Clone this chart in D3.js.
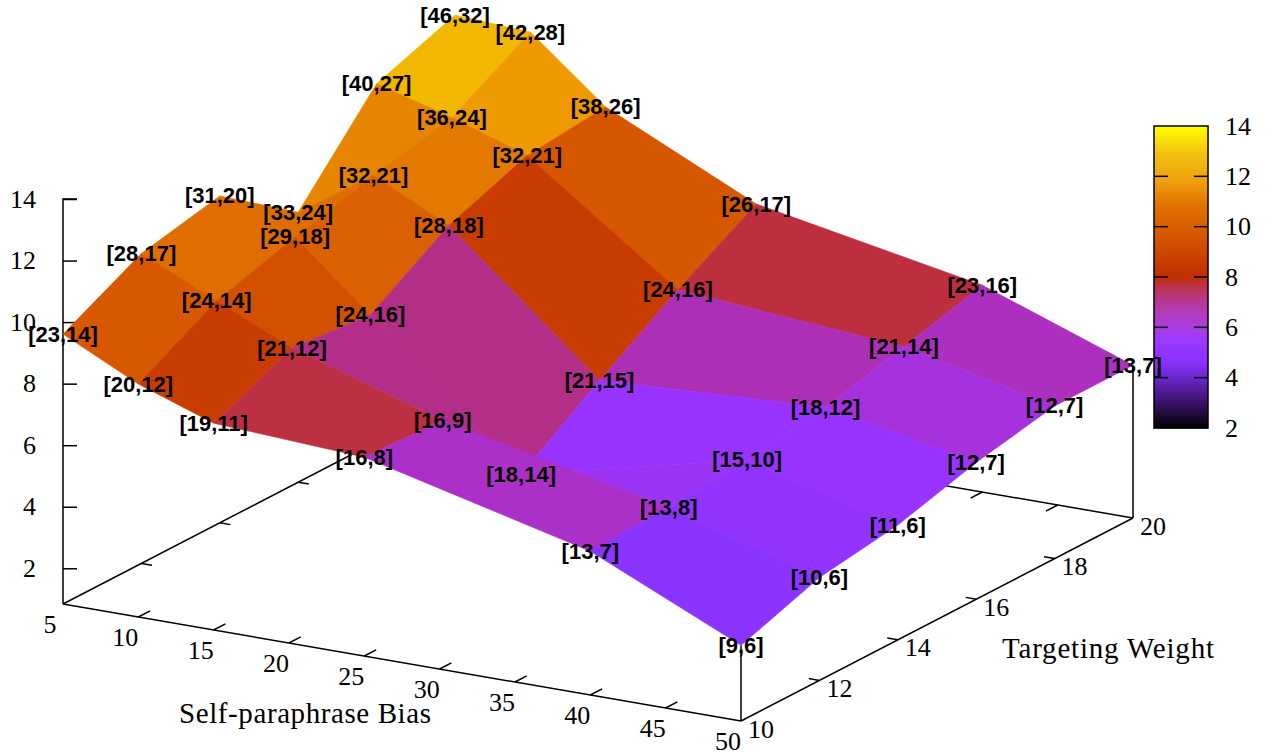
<!DOCTYPE html>
<html><head><meta charset="utf-8">
<script src="https://cdn.jsdelivr.net/npm/d3@7"></script>
<style>html,body{margin:0;padding:0;background:#fff;overflow:hidden}
.tick-text{font-family:"Liberation Serif",serif;font-size:26px;fill:#000}
.title-text{font-family:"Liberation Serif",serif;font-size:29px;fill:#000}
.pt{font-family:"Liberation Sans",Arial,sans-serif;font-weight:700;font-size:22px;fill:#000}
</style></head><body><svg id="c" width="1268" height="754"></svg>
<script>
// ---- data ----
const selfBias = [5, 10, 15, 25, 40, 50];
const targetWeight = [10, 12, 14, 16, 18, 20];
const zRow10 = [9.61, 8.41, 7.56, 7.30, 5.51, 3.30];
const zRow12 = [10.91, 9.80, 8.68, 7.17, 5.61, 4.18];
const zRow14 = [11.46, 10.55, 8.44, 4.11, 5.84, 4.57];
const zRow16 = [9.61, 11.24, 10.03, 5.84, 6.23, 5.28];
const zRow18 = [12.47, 11.79, 10.98, 7.46, 6.88, 5.80];
const zRow20 = [13.38, 13.25, 11.24, 8.93, 7.56, 5.80];
const labelRow10 = ["[23,14]","[20,12]","[19,11]","[16,8]","[13,7]","[9,6]"];
const labelRow12 = ["[28,17]","[24,14]","[21,12]","[16,9]","[13,8]","[10,6]"];
const labelRow14 = ["[31,20]","[29,18]","[24,16]","[18,14]","[15,10]","[11,6]"];
const labelRow16 = ["[33,24]","[32,21]","[28,18]","[21,15]","[18,12]","[12,7]"];
const labelRow18 = ["[40,27]","[36,24]","[32,21]","[24,16]","[21,14]","[12,7]"];
const labelRow20 = ["[46,32]","[42,28]","[38,26]","[26,17]","[23,16]","[13,7]"];
const xTicks = [5,10,15,20,25,30,35,40,45,50];
const yTicks = [10,12,14,16,18,20];
const zTicks = [2,4,6,8,10,12,14];
const cbTicks = [2,4,6,8,10,12,14];
const xTitle = "Self-paraphrase Bias";
const yTitle = "Targeting Weight";
const paletteStops = [2,3,4,4.65,5.5,6,6.5,7.1,7.7,8,8.6,9.7,10.8,11.8,12.9,14];
const paletteColors = ["#000000","#3a1268","#6a28c8","#8b33ff","#9933ff","#a532e0","#ac2fc0","#b32e88","#bd2f40","#c03000","#c83c00","#d85800","#e07000","#ee9a00","#f3bd00","#ffff00"];

const zGrid = [zRow10,zRow12,zRow14,zRow16,zRow18,zRow20];
const labelGrid = [labelRow10,labelRow12,labelRow14,labelRow16,labelRow18,labelRow20];

// ---- projection built from scales ----
const xH = d3.scaleLinear([5,50],[0,678]);
const xV = d3.scaleLinear([5,50],[0,117]);
const yH = d3.scaleLinear([10,20],[0,392]);
const yV = d3.scaleLinear([10,20],[0,-203]);
const zS = d3.scaleLinear([2,14],[568.3,199]);
const zBase = zS.invert(604);
const ox = 63;
const P = (x,y,z) => [ox + xH(x) + yH(y), zS(z) + xV(x) + yV(y)];
const cbS = d3.scaleLinear([2,14],[428,126]);
const palette = d3.scaleLinear().domain(paletteStops).range(paletteColors).clamp(true);

const svg = d3.select("#c");
const line = d3.line();
const seg = (a,b,w=1.5) => svg.append("path").attr("d",line([a,b])).attr("stroke","#000").attr("stroke-width",w).attr("fill","none");

// base frame
seg(P(5,10,zBase),P(50,10,zBase));
seg(P(50,10,zBase),P(50,20,zBase));
seg(P(5,10,zBase),P(5,20,zBase));
seg(P(5,20,zBase),P(50,20,zBase));
seg(P(50,10,zBase),P(50,10,zGrid[0][5]));
seg(P(50,20,zBase),P(50,20,zGrid[5][5]));
// ticks
xTicks.slice(1,-1).forEach(t=>{
  seg(P(t,10,zBase),P(t,10.3,zBase));
  seg(P(t,20,zBase),P(t,19.7,zBase));
});
yTicks.slice(1,-1).forEach(t=>{
  seg(P(50,t,zBase),P(49.3,t,zBase));
  seg(P(5,t,zBase),P(5.7,t,zBase));
});
// tick labels
const tl = (x,y,s,a="middle") => svg.append("text").attr("class","tick-text").attr("x",x).attr("y",y).attr("text-anchor",a).attr("dominant-baseline","central").text(s);
xTicks.forEach(t=>{const p=P(t,10,zBase); tl(p[0]-13,p[1]+20,t);});
yTicks.forEach(t=>{const p=P(50,t,zBase); tl(p[0]+20,p[1]+8,t);});

// z axis
const zAxis = d3.axisRight(zS).tickValues(zTicks).tickSize(14).tickFormat("");
const zg = svg.append("g").attr("transform",`translate(${ox},0)`).call(zAxis);
zg.select(".domain").attr("d",line([[0,P(5,10,zBase)[1]],[0,zS(14)],[14,zS(14)]])).attr("stroke-width",1.5).attr("fill","none");
zg.selectAll(".tick line").attr("stroke-width",1.5);
zTicks.forEach(t=>tl(36,zS(t),t,"end"));

// surface, back to front
const quads = [];
for (let j=targetWeight.length-2;j>=0;j--) for (let i=0;i<selfBias.length-1;i++) {
  const c=[[i,j],[i+1,j],[i+1,j+1],[i,j+1]];
  quads.push({pts:c.map(([a,b])=>P(selfBias[a],targetWeight[b],zGrid[b][a])), z:d3.mean(c,([a,b])=>zGrid[b][a])});
}
svg.append("g").selectAll("path").data(quads).join("path")
  .attr("d",d=>line(d.pts)+"Z").attr("fill",d=>palette(d.z)).attr("stroke",d=>palette(d.z)).attr("stroke-width",0.6).attr("stroke-linejoin","round");

// titles
const title = (x,y,s,len) => svg.append("text").attr("class","title-text").attr("x",x).attr("y",y).attr("text-anchor","middle").attr("dominant-baseline","central").attr("textLength",len).attr("lengthAdjust","spacing").text(s);
title(305,713,xTitle,252);
title(1108,648,yTitle,212);

// colour box
const cbX = 1154, cbW = 54;
const cbSteps = d3.range(2,14,0.04);
svg.append("g").selectAll("rect").data(cbSteps).join("rect")
  .attr("x",cbX).attr("width",cbW).attr("y",d=>cbS(d+0.04)).attr("height",d=>cbS(d)-cbS(d+0.04)+0.5).attr("fill",d=>palette(d+0.02));
svg.append("rect").attr("x",cbX).attr("y",cbS(14)).attr("width",cbW).attr("height",cbS(2)-cbS(14)).attr("fill","none").attr("stroke","#000").attr("stroke-width",1.5);
cbTicks.slice(1,-1).forEach(t=>{
  seg([cbX,cbS(t)],[cbX+14,cbS(t)]);
  seg([cbX+cbW-14,cbS(t)],[cbX+cbW,cbS(t)]);
});
cbTicks.forEach(t=>tl(1225,cbS(t),t,"start"));

// node labels on top
targetWeight.forEach((w,j)=>selfBias.forEach((b,i)=>{
  const p=P(b,w,zGrid[j][i]);
  svg.append("text").attr("class","pt").attr("x",p[0]).attr("y",p[1]).attr("text-anchor","middle").attr("dominant-baseline","central").text(labelGrid[j][i]);
}));
</script></body></html>
